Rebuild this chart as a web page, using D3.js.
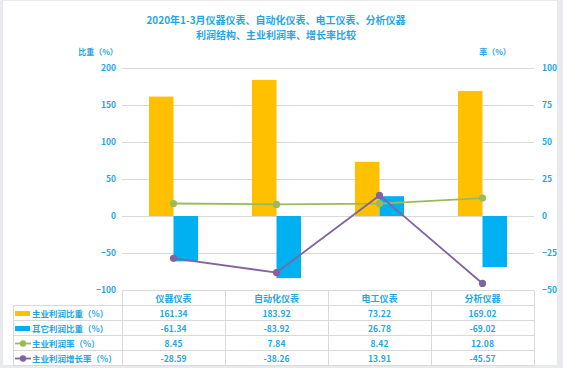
<!DOCTYPE html>
<html><head><meta charset="utf-8">
<script src="https://cdn.jsdelivr.net/npm/d3@7"></script>
<style>body{margin:0;background:#e9eaee;}svg{display:block;}</style>
</head><body>
<svg id="c" width="563" height="368"></svg>
<script>
const categories = ["仪器仪表", "自动化仪表", "电工仪表", "分析仪器"];
const mainShare = [161.34, 183.92, 73.22, 169.02];
const otherShare = [-61.34, -83.92, 26.78, -69.02];
const mainRate = [8.45, 7.84, 8.42, 12.08];
const growthRate = [-28.59, -38.26, 13.91, -45.57];
const leftTicks = [200, 150, 100, 50, 0, -50, -100];
const rightTicks = [100, 75, 50, 25, 0, -25, -50];
const seriesNames = ["主业利润比重（%）", "其它利润比重（%）", "主业利润率（%）", "主业利润增长率（%）"];

const blue = "#1fa6e6", cYellow = "#ffc000", cBlue = "#00b0f0", cGreen = "#9bbb59", cPurple = "#8064a2", grid = "#d9d9d9";
const font = "'Noto Sans CJK SC', 'Noto Sans', sans-serif";
const svg = d3.select("#c").style("font-family", font);
svg.append("rect").attr("x", 3).attr("y", 1).attr("width", 554).attr("height", 364).attr("fill", "#fff");

const x = d3.scaleBand().domain(categories).range([122, 534]).padding(0);
const yL = d3.scaleLinear().domain([-100, 200]).range([290, 68]);
const yR = d3.scaleLinear().domain([-50, 100]).range([290, 68]);

// title
svg.append("text").attr("x", 276).attr("y", 24).attr("text-anchor", "middle").attr("fill", blue)
  .attr("font-size", 10).attr("font-weight", "bold").text("2020年1-3月仪器仪表、自动化仪表、电工仪表、分析仪器");
svg.append("text").attr("x", 276).attr("y", 39).attr("text-anchor", "middle").attr("fill", blue)
  .attr("font-size", 10).attr("font-weight", "bold").text("利润结构、主业利润率、增长率比较");
svg.append("text").attr("x", 98).attr("y", 55).attr("text-anchor", "middle").attr("fill", blue)
  .attr("font-size", 8).attr("font-weight", "bold").text("比重（%）");
svg.append("text").attr("x", 495).attr("y", 55).attr("text-anchor", "middle").attr("fill", blue)
  .attr("font-size", 8).attr("font-weight", "bold").text("率（%）");

// gridlines
svg.append("g").selectAll("line").data(leftTicks.filter(d => d > -100)).join("line")
  .attr("x1", 122).attr("x2", 534).attr("y1", d => Math.round(yL(d)) + 0.5).attr("y2", d => Math.round(yL(d)) + 0.5)
  .attr("stroke", grid).attr("stroke-width", 1);

// axes
const axL = svg.append("g").attr("transform", "translate(116,0)")
  .call(d3.axisLeft(yL).tickValues(leftTicks).tickSize(0).tickPadding(0));
axL.select(".domain").remove();
axL.selectAll("text").attr("fill", blue).attr("font-size", 8.5).attr("font-weight", "bold").attr("font-family", font);
const axR = svg.append("g").attr("transform", "translate(542,0)")
  .call(d3.axisRight(yR).tickValues(rightTicks).tickSize(0).tickPadding(0));
axR.select(".domain").remove();
axR.selectAll("text").attr("fill", blue).attr("font-size", 8.5).attr("font-weight", "bold").attr("font-family", font);

// bars
const bw = 24.5;
svg.append("g").selectAll("rect").data(categories).join("rect")
  .attr("x", (d) => x(d) + x.bandwidth() / 2 - bw)
  .attr("y", (d, i) => Math.min(yL(mainShare[i]), yL(0)))
  .attr("width", bw)
  .attr("height", (d, i) => Math.abs(yL(mainShare[i]) - yL(0)))
  .attr("fill", cYellow);
svg.append("g").selectAll("rect").data(categories).join("rect")
  .attr("x", (d) => x(d) + x.bandwidth() / 2)
  .attr("y", (d, i) => Math.min(yL(otherShare[i]), yL(0)))
  .attr("width", bw)
  .attr("height", (d, i) => Math.abs(yL(otherShare[i]) - yL(0)))
  .attr("fill", cBlue);

// lines
function drawLine(vals, color) {
  const line = d3.line().x((d, i) => x(categories[i]) + x.bandwidth() / 2).y(d => yR(d));
  svg.append("path").datum(vals).attr("d", line).attr("fill", "none").attr("stroke", color).attr("stroke-width", 1.8);
  svg.append("g").selectAll("circle").data(vals).join("circle")
    .attr("cx", (d, i) => x(categories[i]) + x.bandwidth() / 2).attr("cy", d => yR(d)).attr("r", 3.6).attr("fill", color);
}
drawLine(mainRate, cGreen);
drawLine(growthRate, cPurple);

// data table
const rowY = [306, 321, 336, 351, 366];
const tg = svg.append("g");
const tl = tg.append("g").attr("stroke", grid).attr("stroke-width", 1);
tl.append("line").attr("x1", 122).attr("x2", 534).attr("y1", 290.5).attr("y2", 290.5);
rowY.forEach(yy => tl.append("line").attr("x1", 13).attr("x2", 534).attr("y1", yy - 0.5).attr("y2", yy - 0.5));
tl.append("line").attr("x1", 13.5).attr("x2", 13.5).attr("y1", 305.5).attr("y2", 365.5);
[122, 226, 329, 432, 534].forEach((xx, i) => {
  const xv = i === 0 ? 122 : (i === 4 ? 534 : x(categories[i]));
  tl.append("line").attr("x1", Math.round(xv) + 0.5).attr("x2", Math.round(xv) + 0.5).attr("y1", 290.5).attr("y2", 365.5);
});
tg.selectAll("text.hdr").data(categories).join("text").attr("class", "hdr")
  .attr("x", d => x(d) + x.bandwidth() / 2).attr("y", 301.5).attr("text-anchor", "middle")
  .attr("fill", blue).attr("font-size", 9).attr("font-weight", "bold").text(d => d);
const tableRows = [mainShare, otherShare, mainRate, growthRate];
tableRows.forEach((vals, r) => {
  const cy = rowY[r] + 7.5;
  tg.append("g").selectAll("text").data(vals).join("text")
    .attr("x", (d, i) => x(categories[i]) + x.bandwidth() / 2).attr("y", cy + 3)
    .attr("text-anchor", "middle").attr("fill", blue).attr("font-size", 8.5).attr("font-weight", "bold")
    .text(d => d.toFixed(2));
  tg.append("text").attr("x", 32).attr("y", cy + 3).attr("fill", blue).attr("font-size", 8.5)
    .attr("font-weight", "bold").text(seriesNames[r]);
  if (r < 2) {
    tg.append("rect").attr("x", 15).attr("y", cy - 2.5).attr("width", 15).attr("height", 5).attr("fill", r === 0 ? cYellow : cBlue);
  } else {
    const col = r === 2 ? cGreen : cPurple;
    tg.append("line").attr("x1", 15).attr("x2", 31).attr("y1", cy).attr("y2", cy).attr("stroke", col).attr("stroke-width", 1.8);
    tg.append("circle").attr("cx", 23).attr("cy", cy).attr("r", 3.2).attr("fill", col);
  }
});
</script>
</body></html>
